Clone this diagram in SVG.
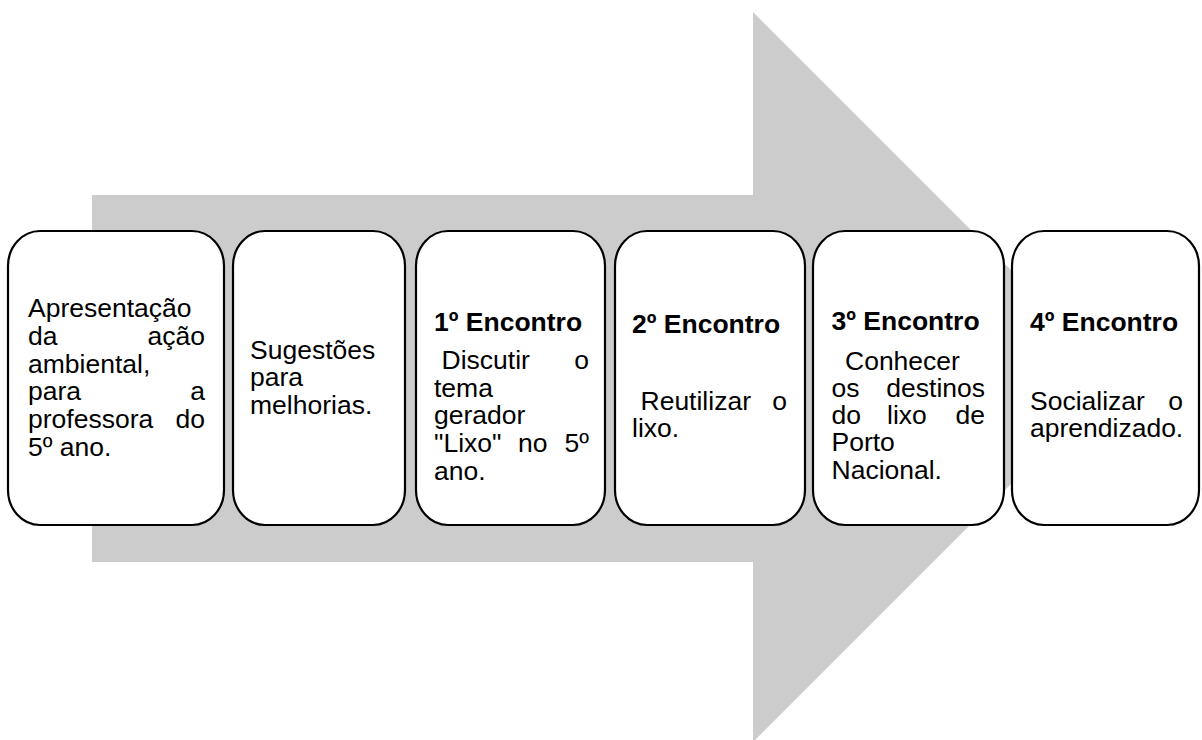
<svg xmlns="http://www.w3.org/2000/svg" width="1202" height="740" viewBox="0 0 1202 740">
<style>
.box{fill:#ffffff;stroke:#000000;stroke-width:2.2}
.t{font-family:"Liberation Sans",Arial,sans-serif;font-size:26.5px;fill:#000000}
.b{font-weight:bold}
.e{text-anchor:end}
</style>
<rect width="1202" height="740" fill="#ffffff"/>
<g id="arrow">
<polygon points="92,195 753,195 753,12 1118,377 753,742 753,562 92,562" fill="#cccccc"/>
</g>
<g id="connectors"></g>
<g id="node1">
<rect class="box" x="8" y="231" width="216" height="294" rx="32" ry="35"/>
<text class="t" x="28" y="317">Apresentação</text>
<text class="t" x="28" y="345">da</text><text class="t e" x="205" y="345">ação</text>
<text class="t" x="28" y="372.5">ambiental,</text>
<text class="t" x="28" y="400">para</text><text class="t e" x="205" y="400">a</text>
<text class="t" x="28" y="428">professora</text><text class="t e" x="205" y="428">do</text>
<text class="t" x="28" y="455.5">5º ano.</text>
</g>
<g id="node2">
<rect class="box" x="233" y="231" width="172" height="294" rx="32" ry="35"/>
<text class="t" x="250" y="358.5">Sugestões</text>
<text class="t" x="250" y="386">para</text>
<text class="t" x="250" y="413.5">melhorias.</text>
</g>
<g id="node3">
<rect class="box" x="416" y="231" width="189" height="294" rx="32" ry="35"/>
<text class="t b" x="434" y="331">1º Encontro</text>
<text class="t" x="441.5" y="369">Discutir</text><text class="t e" x="589" y="369">o</text>
<text class="t" x="434" y="396.5">tema</text>
<text class="t" x="434" y="424">gerador</text>
<text class="t" x="434" y="452">"Lixo"</text><text class="t" x="518" y="452">no</text><text class="t e" x="589" y="452">5º</text>
<text class="t" x="434" y="479.5">ano.</text>
</g>
<g id="node4">
<rect class="box" x="615" y="231" width="190" height="294" rx="32" ry="35"/>
<text class="t b" x="632" y="332.5">2º Encontro</text>
<text class="t" x="640.5" y="410">Reutilizar</text><text class="t e" x="787" y="410">o</text>
<text class="t" x="632" y="437">lixo.</text>
</g>
<g id="node5">
<rect class="box" x="813" y="231" width="191" height="294" rx="32" ry="35"/>
<text class="t b" x="831.5" y="330">3º Encontro</text>
<text class="t" x="845" y="370">Conhecer</text>
<text class="t" x="831.5" y="397">os</text><text class="t e" x="985" y="397">destinos</text>
<text class="t" x="831.5" y="423.5">do</text><text class="t" x="887" y="423.5">lixo</text><text class="t e" x="985" y="423.5">de</text>
<text class="t" x="831.5" y="451">Porto</text>
<text class="t" x="831.5" y="478.5">Nacional.</text>
</g>
<g id="node6">
<rect class="box" x="1012" y="231" width="187" height="294" rx="32" ry="35"/>
<text class="t b" x="1030" y="331">4º Encontro</text>
<text class="t" x="1030" y="410">Socializar</text><text class="t e" x="1183" y="410">o</text>
<text class="t" x="1030" y="437">aprendizado.</text>
</g>
</svg>
